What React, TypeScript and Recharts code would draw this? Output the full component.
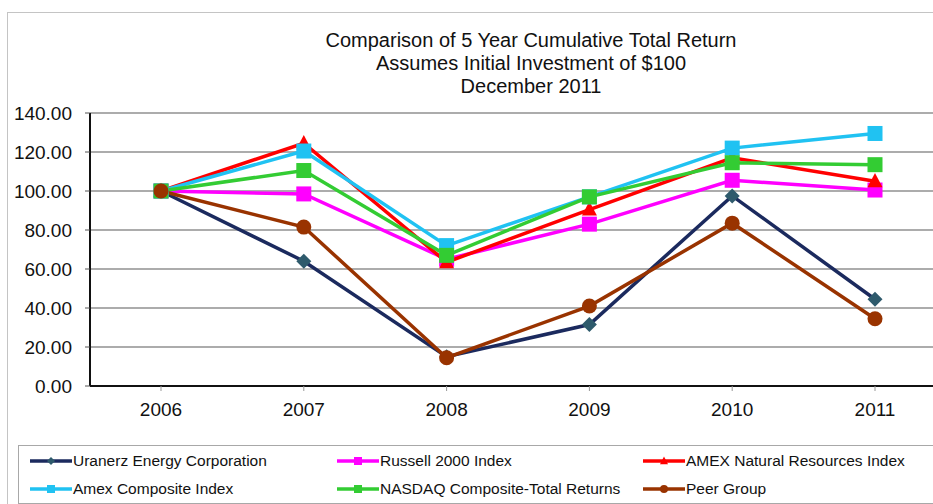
import { LineChart, Line, XAxis, YAxis, CartesianGrid } from "recharts";

const years = ["2006", "2007", "2008", "2009", "2010", "2011"];
const uranerz = [100, 64, 15, 31.5, 97.5, 44.5];
const russell = [100, 98.5, 65, 83, 105.5, 100.5];
const amexNatural = [100, 124.5, 63.5, 90.5, 117, 105];
const amexComposite = [100, 120.5, 72, 97, 122, 129.5];
const nasdaq = [100, 110.5, 67, 97, 114.5, 113.5];
const peerGroup = [100, 81.5, 14.5, 41, 83.5, 34.5];
const yTicks = [0, 20, 40, 60, 80, 100, 120, 140];

type Shape = "diamond" | "square" | "triangle" | "circle";

const series: { key: string; name: string; values: number[]; line: string; marker: string; shape: Shape }[] = [
  { key: "uranerz", name: "Uranerz Energy Corporation", values: uranerz, line: "#1b2a5e", marker: "#2e5a6c", shape: "diamond" },
  { key: "russell", name: "Russell 2000 Index", values: russell, line: "#ff00ff", marker: "#ff00ff", shape: "square" },
  { key: "amexNat", name: "AMEX Natural Resources Index", values: amexNatural, line: "#ff0000", marker: "#ff0000", shape: "triangle" },
  { key: "amexComp", name: "Amex Composite Index", values: amexComposite, line: "#20c2f2", marker: "#20c2f2", shape: "square" },
  { key: "nasdaq", name: "NASDAQ Composite-Total Returns", values: nasdaq, line: "#33cc33", marker: "#33cc33", shape: "square" },
  { key: "peer", name: "Peer Group", values: peerGroup, line: "#993300", marker: "#993300", shape: "circle" },
];

// legend order as it appears in the box (row by row)
const legendOrder = ["uranerz", "russell", "amexNat", "amexComp", "nasdaq", "peer"];
const legendCols = [30, 337, 643];
const legendRows = [461, 489];

const data = years.map((year, i) => {
  const row: Record<string, number | string> = { year };
  series.forEach(s => (row[s.key] = s.values[i]));
  return row;
});

const FONT = "Arial, 'Liberation Sans', sans-serif";

function marker(shape: Shape, color: string, cx: number, cy: number, s: number, key?: string) {
  if (shape === "diamond")
    return <path key={key} d={`M${cx},${cy - s}L${cx + s},${cy}L${cx},${cy + s}L${cx - s},${cy}Z`} fill={color} />;
  if (shape === "square")
    return <rect key={key} x={cx - s} y={cy - s} width={s * 2} height={s * 2} fill={color} />;
  if (shape === "triangle")
    return <path key={key} d={`M${cx},${cy - s * 1.1}L${cx + s},${cy + s * 0.8}L${cx - s},${cy + s * 0.8}Z`} fill={color} />;
  return <circle key={key} cx={cx} cy={cy} r={s} fill={color} />;
}

const sizes: Record<Shape, number> = { diamond: 7.5, square: 7.5, triangle: 7.5, circle: 7.5 };

export default function App() {
  return (
    <div style={{ position: "absolute", left: 0, top: 0, width: 933, height: 504, overflow: "hidden", background: "#fff", fontFamily: FONT }}>
      {/* outer chart frame */}
      <div style={{ position: "absolute", left: 7, top: 12, width: 1000, height: 600, border: "1px solid #c4c4c4", borderRight: "none" }} />

      {/* title */}
      <div style={{ position: "absolute", left: 281, top: 29, width: 500, textAlign: "center", fontSize: 20, lineHeight: "23px", color: "#111" }}>
        <div style={{ whiteSpace: "nowrap" }}>Comparison of 5 Year Cumulative Total Return</div>
        <div>Assumes Initial Investment of $100</div>
        <div>December 2011</div>
      </div>

      <div style={{ position: "absolute", left: 0, top: 0 }}>
        <LineChart width={1020} height={430} data={data} margin={{ top: 113, right: 74, left: 0, bottom: 14 }}>
          <CartesianGrid vertical={false} stroke="#909090" strokeWidth={1.5} />
          <XAxis
            dataKey="year"
            height={30}
            padding={{ left: 71, right: 71 }}
            axisLine={{ stroke: "#111", strokeWidth: 2 }}
            tickLine={{ stroke: "#999" }}
            tickSize={5}
            tickMargin={12}
            tick={{ fontSize: 19, fill: "#111", fontFamily: FONT }}
          />
          <YAxis
            width={90}
            domain={[0, 140]}
            ticks={yTicks}
            tickFormatter={(v: number) => v.toFixed(2)}
            axisLine={{ stroke: "#111", strokeWidth: 2 }}
            tickLine={{ stroke: "#555" }}
            tickSize={5}
            tickMargin={13}
            tick={{ fontSize: 19, fill: "#111", fontFamily: FONT }}
          />
          {series.map(s => (
            <Line
              key={s.key}
              dataKey={s.key}
              name={s.name}
              type="linear"
              stroke={s.line}
              strokeWidth={3.5}
              isAnimationActive={false}
              activeDot={false}
              dot={(p: any) => marker(s.shape, s.marker, p.cx, p.cy, sizes[s.shape], `${s.key}-${p.index}`)}
            />
          ))}
        </LineChart>
      </div>

      {/* legend box */}
      <div style={{ position: "absolute", left: 18, top: 445, width: 1000, height: 57, border: "1px solid #a8a8a8", borderRight: "none" }} />
      {legendOrder.map((k, i) => {
        const s = series.find(x => x.key === k)!;
        const x = legendCols[i % 3];
        const y = legendRows[Math.floor(i / 3)];
        return (
          <div key={k} style={{ position: "absolute", left: x, top: y - 10, height: 20, display: "flex", alignItems: "center", whiteSpace: "nowrap" }}>
            <svg width={42} height={12} style={{ display: "block" }}>
              <line x1={0} y1={6} x2={42} y2={6} stroke={s.line} strokeWidth={3.5} />
              {marker(s.shape, s.marker, 21, 6, 4)}
            </svg>
            <span style={{ fontSize: 15.5, color: "#111", marginLeft: 1 }}>{s.name}</span>
          </div>
        );
      })}
    </div>
  );
}
